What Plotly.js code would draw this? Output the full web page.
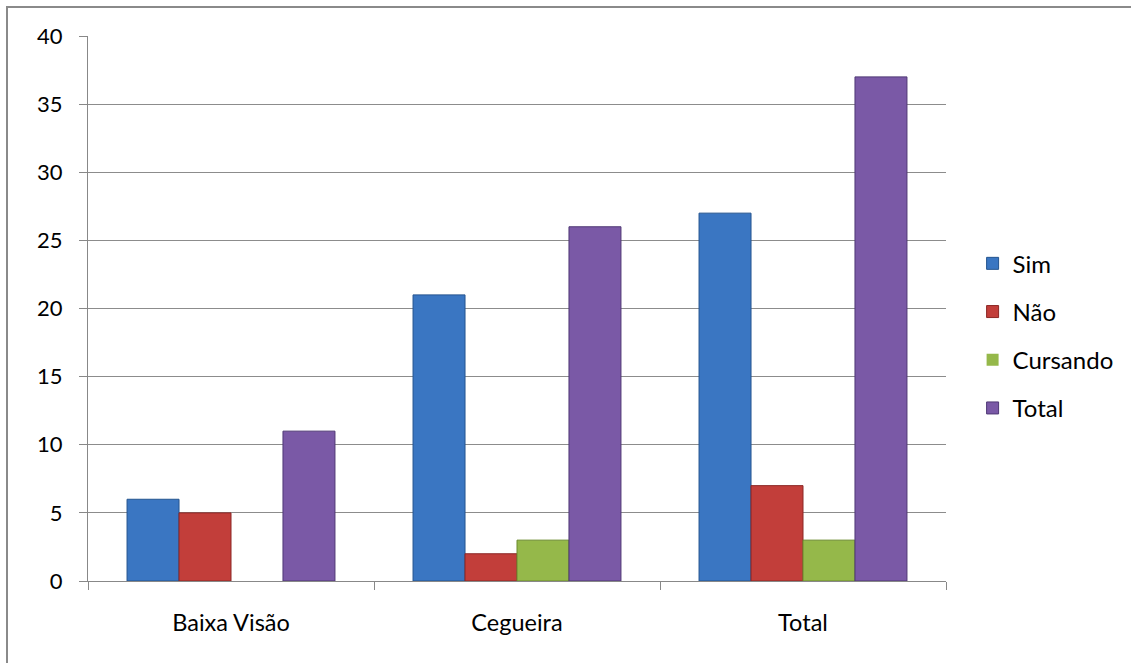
<!DOCTYPE html>
<html>
<head>
<meta charset="utf-8">
<script src="https://cdn.plot.ly/plotly-3.0.1.min.js"></script>
<style>
  html, body { margin: 0; padding: 0; background: #fff; }
  #wrap { position: relative; width: 1131px; height: 663px; overflow: hidden; }
  #chart { width: 1131px; height: 663px; }
  #frame { position: absolute; left: 6px; top: 6px; right: -10px; bottom: -10px;
           border-left: 2px solid #8a8a8a; border-top: 2px solid #8a8a8a; pointer-events: none; }
</style>
</head>
<body>
<div id="wrap">
  <div id="chart"></div>
  <div id="frame"></div>
</div>
<script>
// Categorias do eixo X
const categorias = ["Baixa Visão", "Cegueira", "Total"];

// Valores de cada série
const sim      = [6, 21, 27];
const nao      = [5, 2, 7];
const cursando = [0, 3, 3];
const total    = [11, 26, 37];

const series = [
  { name: "Sim",      y: sim,      fill: "#3a76c2", edge: "#24548f" },
  { name: "Não",      y: nao,      fill: "#c23e3a", edge: "#8c2624" },
  { name: "Cursando", y: cursando, fill: "#95b84a", edge: "#6a8a2c" },
  { name: "Total",    y: total,    fill: "#7a59a6", edge: "#4f3875" }
];

const traces = series.map((s, i) => ({
  type: "bar",
  name: s.name,
  x: categorias,
  y: s.y,
  legendgroup: "g" + i,
  marker: {
    color: s.fill,
    // sem contorno para barras de valor zero
    line: { color: s.edge, width: s.y.map(v => (v > 0 ? 1 : 0)) }
  },
  hoverinfo: "x+y+name"
}));

const layout = {
  width: 1131,
  height: 663,
  margin: { l: 88, r: 185, t: 36, b: 82 },
  paper_bgcolor: "#ffffff",
  plot_bgcolor: "#ffffff",
  font: { family: "Lato, 'Open Sans', sans-serif", size: 22, color: "#000" },
  barmode: "group",
  bargap: 0.273,
  bargroupgap: 0,
  showlegend: true,
  legend: {
    x: 1.031, xanchor: "left",
    y: 0.45, yanchor: "middle",
    tracegroupgap: 14,
    font: { size: 24 },
    itemwidth: 30
  },
  xaxis: {
    type: "category",
    tickson: "boundaries",
    ticks: "outside",
    ticklen: 8,
    tickcolor: "#888",
    showline: true,
    linecolor: "#888",
    linewidth: 1,
    showgrid: false,
    tickfont: { size: 23.5 },
    ticklabelstandoff: 21
  },
  yaxis: {
    range: [0, 40],
    dtick: 5,
    ticks: "outside",
    ticklen: 8,
    tickcolor: "#888",
    showline: true,
    linecolor: "#888",
    linewidth: 1,
    showgrid: true,
    gridcolor: "#8c8c8c",
    gridwidth: 1,
    zeroline: false,
    tickfont: { size: 22 },
    ticklabelstandoff: 12
  }
};

Plotly.newPlot("chart", traces, layout, { displayModeBar: false, staticPlot: true });
</script>
</body>
</html>
